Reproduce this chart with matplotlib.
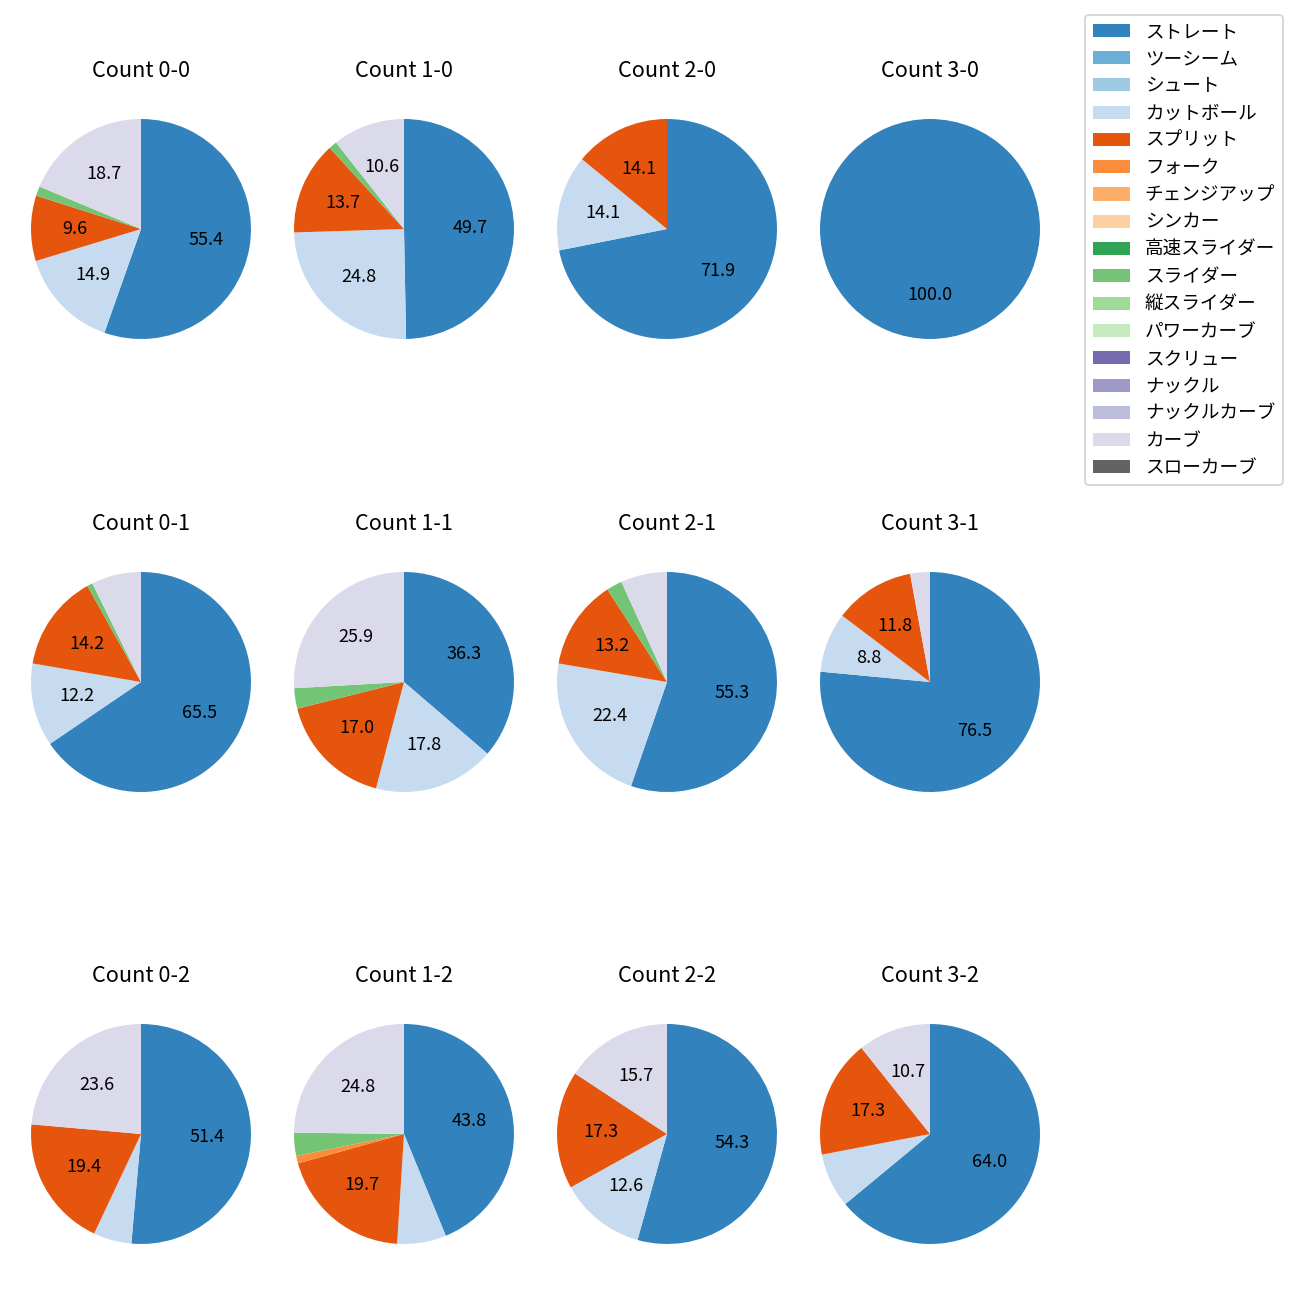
import numpy as np
import matplotlib
matplotlib.use("Agg")
import matplotlib.pyplot as plt
from matplotlib.patches import Patch

plt.rcParams['font.family'] = ['Noto Sans CJK JP', 'DejaVu Sans']

pitch_types = ["ストレート", "ツーシーム", "シュート", "カットボール", "スプリット", "フォーク",
               "チェンジアップ", "シンカー", "高速スライダー", "スライダー", "縦スライダー",
               "パワーカーブ", "スクリュー", "ナックル", "ナックルカーブ", "カーブ", "スローカーブ"]
colors = ["#3182bd", "#6baed6", "#9ecae1", "#c6dbef", "#e6550d", "#fd8d3c", "#fdae6b",
          "#fdd0a2", "#31a354", "#74c476", "#a1d99b", "#c7e9c0", "#756bb1", "#9e9ac8",
          "#bcbddc", "#dadaeb", "#636363"]

# share (%) per pitch type, same order as pitch_types
c00 = [55.4, 0, 0, 14.9, 9.6, 0, 0, 0, 0, 1.4, 0, 0, 0, 0, 0, 18.7, 0]
c10 = [49.7, 0, 0, 24.8, 13.7, 0, 0, 0, 0, 1.2, 0, 0, 0, 0, 0, 10.6, 0]
c20 = [71.88, 0, 0, 14.06, 14.06, 0, 0, 0, 0, 0, 0, 0, 0, 0, 0, 0, 0]
c30 = [100.0, 0, 0, 0, 0, 0, 0, 0, 0, 0, 0, 0, 0, 0, 0, 0, 0]
c01 = [65.5, 0, 0, 12.2, 14.2, 0, 0, 0, 0, 0.8, 0, 0, 0, 0, 0, 7.3, 0]
c11 = [36.3, 0, 0, 17.8, 17.0, 0, 0, 0, 0, 3.0, 0, 0, 0, 0, 0, 25.9, 0]
c21 = [55.3, 0, 0, 22.4, 13.2, 0, 0, 0, 0, 2.3, 0, 0, 0, 0, 0, 6.8, 0]
c31 = [76.5, 0, 0, 8.8, 11.8, 0, 0, 0, 0, 0, 0, 0, 0, 0, 0, 2.9, 0]
c02 = [51.4, 0, 0, 5.6, 19.4, 0, 0, 0, 0, 0, 0, 0, 0, 0, 0, 23.6, 0]
c12 = [43.8, 0, 0, 7.2, 19.7, 1.1, 0, 0, 0, 3.4, 0, 0, 0, 0, 0, 24.8, 0]
c22 = [54.32, 0, 0, 12.62, 17.32, 0, 0, 0, 0, 0, 0, 0, 0, 0, 0, 15.74, 0]
c32 = [64.0, 0, 0, 8.0, 17.3, 0, 0, 0, 0, 0, 0, 0, 0, 0, 0, 10.7, 0]

grid = [[("Count 0-0", c00), ("Count 1-0", c10), ("Count 2-0", c20), ("Count 3-0", c30)],
        [("Count 0-1", c01), ("Count 1-1", c11), ("Count 2-1", c21), ("Count 3-1", c31)],
        [("Count 0-2", c02), ("Count 1-2", c12), ("Count 2-2", c22), ("Count 3-2", c32)]]

fig = plt.figure(figsize=(10, 10))

# pie centres in pixels of the 1300px output
xc = [141, 404, 667, 930]
yc = [229, 682, 1134]
size = 275
for r, row in enumerate(grid):
    for c, (title, vals) in enumerate(row):
        ax = fig.add_axes([(xc[c] - size / 2) / 1300, (1300 - yc[r] - size / 2) / 1300,
                           size / 1300, size / 1300])
        ax.pie(vals, colors=colors, startangle=90, counterclock=False,
               autopct=lambda p: f"{p:.1f}" if p >= 8.5 else "")
        ax.set_title(title, pad=8)

handles = [Patch(facecolor=col) for col in colors]
fig.legend(handles, pitch_types, loc='upper right', bbox_to_anchor=(0.9938, 0.9954),
           fontsize=10.3)

fig.savefig("out.png", dpi=130)
